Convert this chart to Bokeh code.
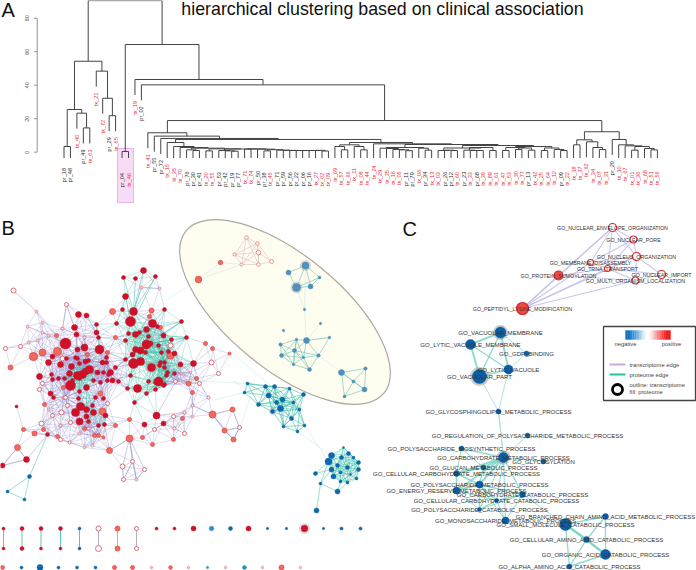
from math import hypot, radians
from bokeh.plotting import figure
from bokeh.models import Range1d
from bokeh.core.properties import value
from bokeh.embed import file_html
from bokeh.resources import INLINE

TITLE = "hierarchical clustering based on clinical association"
PANELS = [("A", 1, 9), ("B", 1, 227), ("C", 402, 228)]
AXIS_TICKS = [0, 20, 40, 60, 80]

# ---- dendrogram (merge heights, leaves as labels) ----
LEFT = (54.3, (25.5, (3.4, 'pr_18', 'pr_48'), (23.3, 'tx_40', (14.5, 'pr_49', 'tx_63'))),
        (48.4, 'tx_21', (32.2, 'tx_72', (21.8, 'pr_29', 'tx_65'))))
Q = (2.0, (0.8, 'tx_20', 'tx_55'),
     (1.9, (1.0, 'pr_53', (0.8, 'pr_42', (0.6, 'pr_19', 'pr_77'))),
      (2.0, (1.9, 'tx_71', 'tx_74'),
       (1.8, 'pr_50', (1.5, (0.8, 'pr_38', 'tx_45'),
        (1.2, 'pr_71', (1.1, 'pr_59', (1.0, 'pr_56', (1.0, 'pr_22', (1.0, 'pr_06', (1.0, 'pr_16', (1.1, 'tx_27', (0.7, 'tx_02', 'tx_09'))))))))))))) 
N242 = (2.4, (1.4, 'pr_76', (1.0, 'pr_30', 'pr_41')), Q)
G1 = (5.8, 'tx_15', (3.4, 'tx_35', (2.8, 'tx_70', N242)))
N350 = (4.4, (3.4, 'tx_69', (1.4, 'tx_57', 'tx_66')), (3.4, 'tx_11', (1.4, 'tx_08', 'tx_44')))
N405 = (2.8, (2.4, 'tx_29', (2.2, 'tx_35', (1.6, 'tx_16', (1.4, 'tx_05', (0.9, 'pr_11', 'pr_79'))))),
        (2.4, 'tx_06', (1.2, 'pr_34', 'tx_13')))
B1 = (2.5, (1.0, 'tx_03', (1.2, 'pr_26', (1.0, 'pr_12', 'tx_60'))),
      (2.8, (1.2, 'pr_23', (1.0, 'tx_33', (1.0, 'pr_68', 'tx_39'))), (1.0, 'tx_89', 'tx_61')))
B2 = (3.4, (2.8, (1.0, 'tx_47', 'tx_53'), (2.5, (1.6, 'tx_30', 'tx_77'), (1.2, 'pr_13', 'tx_42'))),
      (2.5, (1.0, 'tx_25', 'tx_64'), (1.6, 'tx_12', (1.0, 'pr_09', 'tx_22'))))
N498 = (4.0, B1, B2)
G2 = (5.8, N350, (5.0, 'tx_24', (4.6, N405, N498)))
A_BRANCH = (11.6, 'tx_41', (9.6, 'pr_55', (8.2, 'pr_72', (7.6, G1, G2))))
B_BRANCH = (12.2, (7.4, (4.4, 'tx_18', 'tx_37'), (6.2, 'tx_62', (2.8, 'tx_34', (1.6, 'tx_07', 'tx_31')))),
            (7.6, 'pr_20', (4.4, 'tx_10', (3.8, 'tx_67', (3.4, (1.2, 'tx_01', 'tx_36'),
             (2.2, 'tx_68', (1.4, 'tx_51', 'tx_56')))))))
RIGHT = (64.3, (0.4, 'pr_04', 'tx_46'), (43.4, 'tx_19', (40.2, 'pr_02', (18.9, A_BRANCH, B_BRANCH))))
ROOT = (90.5, LEFT, RIGHT)

# ---- network B: node positions and radii ----
MAIN_RED = [(143,270,3),(123,277,2),(135,278,2),(155,276,2),(125,296,3),(133,311,4),(122,309,2),(164,309,2),
 (130,321,5),(116,323,2),(181,321,2),(152,323,4),(146,329,3),(157,326,2),(186,337,2),(171,339,2),(163,335,2.5),
 (128,333,2),(135,334,3),(139,332,2),(148,336,2),(125,340,2),(146,344,4.5),(158,345,2),(150,343,2.5),(135,349,3),
 (140,350,3.5),(132,354,2.5),(145,352,2),(161,352,2),(174,353,2.5),(168,351,2),(133,363,5),(140,361,4),(151,367,4),
 (160,362,2),(164,362,2),(159,365,2),(164,367,2),(180,364,2.5),(193,363,3),(174,373,2),(158,381,4.5),(148,381,2),
 (155,382,2),(167,372,2),(166,375,2),(163,385,2),(164,384,2),(137,388,4),(127,388,2),(146,393,2),(155,389,2),
 (118,381,2),(112,380,2.5),(107,380,2),(100,382,2),(130,375,2),(102,362,2.5),(99,349,4.5),(115,367,2),(110,372,3),
 (103,372,2),(97,372,2.5),(89,369,4),(85,371,3.5),(82,374,4),(77,375,4),(69,373,3),(71,366,3),(77,358,2),(84,347,3.5),
 (85,361,2.5),(88,360,2),(79,363,2),(66,358,2),(60,364,3),(48,362,3),(52,356,2.5),(65,343,5.5),(39,376,3),(51,374,2),
 (52,379,2),(58,378,2),(64,378,2),(72,380,2),(70,385,5),(79,378,2),(86,387,3),(79,391,2),(93,380,2),(50,393,2.5),
 (53,397,2),(78,314,3),(86,315,2.5),(74,327,3),(76,334,2.5),(96,324,2),(96,332,2.5),(98,337,2),(77,349,2.5),(75,357,2),
 (106,357,2),(125,359,2),(106,362,2),(108,374,2),(95,397,2),(103,398,2),(16,406,1.5),(79,421,3.5),(75,412,4),(80,406,4),
 (86,409,3),(93,412,3),(105,415,2.5),(88,421,2),(98,425,2),(104,424,2),(134,402,2),(156,415,3.5),(144,424,2.5),
 (163,423,2.5),(47,434,2),(26,459,3),(2,465,2.5),(86,416,2.5),(92,405,2),(78,398,2)]
MAIN_OPEN = [(170,345,2.5),(211,362,2.5),(218,373,2),(199,383,2),(208,397,1.5),(175,381,2),(39,389,2),(42,383,2),(64,397,2),
 (13,290,2.5),(66,304,2),(62,328,1.5),(20,346,2),(5,348,2),(62,358,2.5),(84,337,1.5),(61,412,2.5),(41,423,2.5),(60,439,2),
 (52,415,2),(69,442,1.5),(70,422,2),(60,425,1.5),(107,403,2),(154,429,2),(184,433,2),(174,428,1.5),(173,416,2),(184,412,1.5),
 (192,405,1.5),(239,427,2),(132,461,2),(122,466,2.5),(144,469,2),(123,479,2),(67,405,2),(65,397,2),(88,428,1.5)]
MAIN_SALMON = [(112,311,3),(151,310,2.5),(149,316,2),(160,327,2),(115,337,2),(107,352,2),(87,354,2),(170,355,3.5),
 (205,343,2),(212,348,2),(229,353,1.5),(196,378,2),(188,383,2.5),(192,392,2),(57,351,4),(42,352,3.5),(33,356,4),(10,367,2.5),
 (100,393,2.5),(63,387,2),(56,335,2),(44,404,2),(23,429,2),(34,433,2.5),(43,429,2),(57,436,2),(102,411,3.5),(115,425,2),
 (94,435,2),(98,435,2),(103,437,1.5),(84,428,2),(129,419,2),(142,437,2),(152,444,2),(173,439,2),(182,418,2),(212,414,3.5),
 (232,409,2.5),(224,430,2.5),(233,439,2.5),(129,438,3.5),(109,450,3),(17,447,3)]
MAIN_PINK = [(141,287,1.5),(159,288,1.5),(36,311,1.5),(42,322,1.5),(27,326,1.5),(42,332,1.5),(48,335,1.5),(37,340,1.5),(28,342,1.5),
 (79,433,1.5),(84,447,1.5),(92,445,1.5),(48,409,1.5),(192,416,1.5),(136,479,1.5),(181,373,1.2),(190,372,1.2),(180,380,1.2)]
BLUE_UPPER = [(247,383,1.5),(244,392,1.5),(265,386,2),(274,386,2),(289,388,1.5),(303,394,2),(268,395,2.5),(282,399,2.5),(276,402,2),
 (258,404,2),(293,402,1.5),(280,408,3),(299,409,1.5),(272,411,2),(291,418,2),(304,425,1.5),(283,426,1.5),(297,431,1.5)]
BLUE_BALL = [(331,455,3),(328,461,3.5),(343,447,1),(348,453,2),(353,457,1.5),(358,462,2),(358,469,2),(356,478,1.5),(347,482,1.5),
 (340,481,1.5),(333,476,2.5),(331,469,2.5),(341,457,2),(337,465,2),(347,467,2),(340,472,1.5),(350,474,1)]
BLUE_BALL_TAIL = [(315,473,2),(320,483,1.5),(337,491,2.5),(316,510,2.5)]
BLUE_TRIANGLE = [(29,476,2),(7,491,1.5),(24,499,1.5)]
ELLIPSE_OPEN = [(246,237,1.8),(257,243,1.8),(258,252,2.3),(234,254,1.6),(241,264,1.5),(258,264,1.8),(271,261,2)]
ELLIPSE_SALMON = [(220,262,2.2),(198,279,3.3)]
MUTED_A = [(305,265,3.5),(288,272,2.5),(319,277,1.5),(296,287,4),(310,286,2.5)]
MUTED_B = [(304,309,1.2),(320,323,1.2),(283,330,1.2),(306,340,3),(329,337,1.3),(296,339,1.3),(280,344,1.7),(294,350,2),
 (281,355,2),(303,357,1.3),(318,355,1.8),(293,364,1.3),(309,369,2)]
MUTED_C = [(341,372,3),(365,368,1.7),(353,381,1.6),(364,389,2.5),(344,396,1.5)]
HALOS_B = [(305,265,5.5),(296,287,6),(272,411,3.5),(304,528,5.5),(151,367,6),(33,356,5)]
FAINT_LINKS = [(198,279,165,300),(198,279,220,262),(198,279,241,264),(220,262,241,264),(304,309,305,265),(304,309,296,287),(304,309,306,340),
 (318,355,341,372),(304,425,328,461),(297,431,331,455),(300,410,304,425),(232,353,300,410),(190,380,247,383),(212,400,244,392),
 (233,380,260,398),(240,427,250,395),(320,323,306,340),(329,337,306,340),(320,483,316,510)]
PURPLE_LINKS = [(129,438,132,461),(129,438,122,466),(129,438,144,469),(132,461,123,479),(144,469,136,479),(122,466,123,479),(132,461,136,479),
 (129,438,136,479),(109,450,129,438),(104,424,109,450),(13,290,36,311),(36,311,56,335),(66,304,74,327),(66,304,62,328),(159,288,141,287),
 (17,447,26,459),(17,447,2,465),(2,465,26,459),(26,459,47,434),(212,414,192,405),(212,414,224,430),(212,414,232,409),(232,409,239,427),
 (224,430,239,427),(224,430,233,439),(212,414,233,439),(239,427,233,439),(156,415,175,381),(184,412,156,415)]
TEAL_LINKS = [(143,270,133,311),(123,277,133,311),(135,278,133,311),(155,276,133,311),(141,287,133,311),(155,276,138,310),(125,296,130,321),
 (133,311,130,321),(181,321,146,344),(186,337,146,344),(186,337,163,335),(171,339,150,343),(181,321,160,335),(29,476,7,491),(7,491,24,499),
 (29,476,24,499),(47,434,29,476),(315,473,328,461),(320,483,331,469),(320,483,337,491),(337,491,340,481),(315,473,331,469),(320,483,328,461),
 (320,483,316,510),(337,491,347,482)]

# ---- isolated nodes and pairs at the foot of B ----
PAIR_COLS = [3, 21.5, 40.5, 60, 79, 98, 117, 136]
PAIR_KIND = ["r", "r", "r", "r", "b", "o", "s", "o"]
PAIR_R_TOP = [1.5, 2, 2, 2, 1.5, 2.5, 2.5, 2]
PAIR_R_BOT = [1.5, 2, 1.5, 1.5, 1.5, 3, 2.5, 2]
ROW1_X = [156, 174, 193, 211, 230, 248, 267, 286, 304, 323, 341, 360]
ROW1_K = ["r", "r", "r", "l", "b", "r", "b", "b", "r", "b", "b", "b"]
ROW1_R = [1.5, 1.5, 2.5, 2.3, 2, 2.5, 1.2, 1.2, 3.3, 1.2, 1.6, 1.6]
ROW3_X = [2, 21, 39.5, 58, 76.5, 95, 114, 132, 151, 170, 188, 207, 225, 244, 262, 281, 300]
ROW3_K = ["s", "b", "b", "b", "b", "b", "s", "s", "p", "s", "p", "m", "p", "l", "p", "s", "p"]
ROW3_R = [2, 1.5, 3, 1.5, 1.5, 1.5, 2, 2, 1.2, 1.8, 1.2, 1.2, 1.2, 2, 1.2, 2.5, 1.2]

# ---- network C ----
C_TOP = [("GO_NUCLEAR_ENVELOPE_ORGANIZATION",612,227,4),("GO_NUCLEAR_PORE",633,239,3.5),("GO_NUCLEUS_ORGANIZATION",636,256,4),
 ("GO_MEMBRANE_DISASSEMBLY",590,262,3),("GO_TRNA_TRANSPORT",607,268,3),("GO_NUCLEAR_IMPORT",661,274,4),
 ("GO_MULTI_ORGANISM_LOCALIZATION",635,280,3.5)]
C_TOP_FILLED = [("GO_PROTEIN_SUMOYLATION",558,275,4.5),("GO_PEPTIDYL_LYSINE_MODIFICATION",522,308,6)]
C_VACUOLE = [("GO_VACUOLAR_MEMBRANE",500,332,5.5),("GO_LYTIC_VACUOLE_MEMBRANE",470,344,5),("GO_GDP_BINDING",526,353,2.5),
 ("GO_LYTIC_VACUOLE",508,369,4.5),("GO_VACUOLAR_PART",479,376,7)]
C_LOWER = [("GO_GLYCOSPHINGOLIPID_METABOLIC_PROCESS",498,411,2.5),("GO_REGULATION_OF_POLYSACCHARIDE_METABOLIC_PROCESS",527,435,2.5),
 ("GO_POLYSACCHARIDE_BIOSYNTHETIC_PROCESS",461,448,2.5),("GO_CARBOHYDRATE_METABOLIC_PROCESS",503,457,5),
 ("GO_GLYCOSYLATION",543,461,2.5),("GO_GLUCAN_METABOLIC_PROCESS",483,467,2.5),("GO_CELLULAR_CARBOHYDRATE_METABOLIC_PROCESS",456,473,3),
 ("GO_POLYSACCHARIDE_METABOLIC_PROCESS",479,484,3.5),("GO_ENERGY_RESERVE_METABOLIC_PROCESS",456,490,3.5),
 ("GO_CARBOHYDRATE_CATABOLIC_PROCESS",522,494,3),("GO_CELLULAR_CARBOHYDRATE_CATABOLIC_PROCESS",496,500,2),
 ("GO_POLYSACCHARIDE_CATABOLIC_PROCESS",479,509,2),("GO_MONOSACCHARIDE_METABOLIC_PROCESS",505,520,3.5),
 ("GO_BRANCHED_CHAIN_AMINO_ACID_METABOLIC_PROCESS",605,516,3),("GO_SMALL_MOLECULE_CATABOLIC_PROCESS",565,524,6),
 ("GO_CELLULAR_AMINO_ACID_CATABOLIC_PROCESS",586,539,3),("GO_ORGANIC_ACID_CATABOLIC_PROCESS",605,554,5),
 ("GO_ALPHA_AMINO_ACID_CATABOLIC_PROCESS",569,566,2.5)]
C_HALOS = [(500,332,7.5),(479,376,9.5),(503,457,7)]
C_PURPLE_EDGES = [(7,0,1.0),(8,7,2.2),(8,3,1.3),(8,4,1.3),(8,0,1.0),(8,6,1.3),(8,2,0.8),(0,1,1),(0,2,1),(0,4,1),(0,3,1),(1,2,1),(1,4,1),(2,4,1),
 (2,6,1),(4,6,1.3),(5,6,1),(4,5,1),(5,2,.7),(3,2,1),(3,4,1),(7,4,1),(7,6,1),(1,3,.7)]
C_VAC_EDGES = [(0,1,2),(0,4,1.3),(0,3,2),(1,4,2),(1,3,1.3),(4,3,1.3),(0,2,.7),(2,3,.7)]
C_LOWER_EDGES = [(0,3,.8),(1,3,.8),(2,3,1.6),(3,4,.8),(3,5,2),(3,6,2),(3,7,2),(3,8,1.6),(3,9,1.3),(3,10,1),(3,11,1),(3,12,1),
 (2,5,1),(2,6,1),(5,6,1.3),(5,7,1.3),(6,7,1.6),(6,8,1.6),(7,8,2),(7,9,1.3),(7,10,1.3),(7,11,1.6),(8,10,1),(8,11,1),(9,10,1.3),(9,11,1),(10,11,1.3),
 (10,12,1),(7,12,1),(9,12,1),(9,14,.8),(13,14,1.3),(14,15,2.2),(14,16,1.6),(15,16,2.2),(13,15,1.3),(13,16,1.3),(15,17,1.3),(16,17,1.6),(14,17,1.3)]

# ---- legend ----
LEGEND_TEXT = [("negative",625,343,"center"),("positive",671,343,"center"),("transcriptome edge",629,364,"left"),
 ("proteome edge",629,374,"left"),("outline: transcriptome",629,384,"left"),("fill: proteome",629,391,"left")]
LEGEND_BOX = (603, 695, 326, 400)
LEGEND_BAR = (625, 670, 330, 339)
BAR_COLORS = ["#0a6fc0","#1177c4","#2a86cb","#4496d2","#619fd8","#81b6e1","#a3cbea","#c6dff2","#e6f1f9","#ffffff","#ffffff","#fde6e6","#fcc8c8","#fba8a8","#f98888","#f86868","#f64c4c","#f53434","#f31e1e","#f10f0f"]

FONT = "Liberation Sans"
TEAL = "#35bba3"
PURPLE = "#8d86c8"
STYLE = {"r": ("#cc1128", "#cc1128", 0.5), "o": ("#ffffff", "#e26c74", 1.0), "s": ("#f26a5c", "#e24a48", 0.8),
         "p": ("#f3c9c9", "#d78c98", 0.7), "b": ("#0e68ad", "#0e68ad", 0.5), "m": ("#4f90bd", "#4f90bd", 0.5),
         "l": ("#2a8fc8", "#2a8fc8", 0.5), "q": ("#fffdf0", "#ec8a88", 0.9), "v": ("#0a5ea8", "#0a5ea8", 0.5),
         "c": ("#ffffff", "#d8252e", 1.2), "f": ("#ee4a44", "#d8252e", 1.2)}

p = figure(width=696, height=570, x_range=Range1d(0, 696), y_range=Range1d(570, 0), toolbar_location=None,
           output_backend="svg", min_border=0, outline_line_color=None, background_fill_color="white")
p.axis.visible = False
p.grid.visible = False


def seg(pts, color, alpha=1.0, width=1.0):
    if pts:
        p.segment([a[0] for a in pts], [a[1] for a in pts], [a[2] for a in pts], [a[3] for a in pts],
                  line_color=color, line_alpha=alpha, line_width=width)


def dots(nodes, kind):
    if nodes:
        f, l, w = STYLE[kind]
        p.scatter([n[0] for n in nodes], [n[1] for n in nodes], size=[2 * n[2] for n in nodes],
                  marker="circle", fill_color=f, line_color=l, line_width=w)


def texts(xs, ys, labels, size, color="#333333", align="center", baseline="middle", angle=0.0):
    p.text(xs, ys, text=labels, text_font=value(FONT), text_font_size=f"{size}px", text_color=color,
           text_align=align, text_baseline=baseline, angle=angle)


def near(nodes, limit):
    out = []
    for i, a in enumerate(nodes):
        for b in nodes[i + 1:]:
            if hypot(a[0] - b[0], a[1] - b[1]) < limit:
                out.append((a[0], a[1], b[0], b[1]))
    return out


# ---- A: dendrogram ----
X0, DX, Y0, YS = 63.5, 6.45, 151.7, 1.675
hy = lambda h: Y0 - YS * h
leaves, den, tips = [], [], []


def walk(n):
    if isinstance(n, str):
        leaves.append(n)
        return X0 + DX * (len(leaves) - 1), None
    h, a, b = n
    xa, ya = walk(a)
    xb, yb = walk(b)
    y = hy(h)
    den.append((xa, y, xb, y))
    for cx, cy, name in ((xa, ya, a), (xb, yb, b)):
        if cy is None:
            end = min(y + 15.5, 157.5)
            den.append((cx, y, cx, end))
            tips.append((name, cx, y + 21.5))
        else:
            den.append((cx, y, cx, cy))
    return (xa + xb) / 2, y


walk(ROOT)
p.quad(left=[117], right=[133], top=[148], bottom=[202], fill_color="#f8dcf6", line_color="#e9b4e9", line_width=1)
seg(den, "#444444", 1, 1.0)
seg([(36.7, hy(AXIS_TICKS[0]), 36.7, hy(AXIS_TICKS[-1]))] + [(33.5, hy(t), 36.7, hy(t)) for t in AXIS_TICKS], "#777777", 1, 0.8)
texts([26] * len(AXIS_TICKS), [hy(t) for t in AXIS_TICKS], [str(t) for t in AXIS_TICKS], 5.5, "#555555", angle=radians(90))
for pre, col in (("tx", "#e8303a"), ("pr", "#2c2c2c")):
    sel = [t for t in tips if t[0].startswith(pre)]
    texts([t[1] for t in sel], [t[2] for t in sel], [t[0] for t in sel], 5.6, col, align="right", angle=radians(90))
texts([382], [8], [TITLE], 17.8, "#111111")
for name, x, y in PANELS:
    texts([x], [y], [name], 20, "#111111", align="left")

# ---- B ----
p.ellipse([284.5], [311.5], width=256, height=114, angle=radians(-39.35), fill_color="#fffdf0", line_color="#aaa8a0", line_width=1.2)
main = MAIN_RED + MAIN_OPEN + MAIN_SALMON + MAIN_PINK
red_set = set(id(n) for n in MAIN_RED)


def teal_zone(n):
    return n[0] >= 120 or (n[1] < 350 and n[0] > 85) or (60 < n[0] < 100 and 362 < n[1] < 395) or (85 < n[0] < 110 and 400 < n[1] < 425)


teal_e, purple_e = [], []
for i, a in enumerate(main):
    for b in main[i + 1:]:
        d = hypot(a[0] - b[0], a[1] - b[1])
        both = id(a) in red_set and id(b) in red_set
        if both and d < 30 and teal_zone(a) and teal_zone(b):
            teal_e.append((a[0], a[1], b[0], b[1]))
        elif d < 26:
            purple_e.append((a[0], a[1], b[0], b[1]))
seg(purple_e, PURPLE, 0.42, 0.7)
seg(teal_e, TEAL, 0.42, 0.7)
seg(PURPLE_LINKS, PURPLE, 0.55, 0.8)
seg(TEAL_LINKS, TEAL, 0.6, 0.8)
seg(FAINT_LINKS, "#b8e2da", 0.6, 0.7)
seg(near(BLUE_UPPER, 28), TEAL, 0.7, 0.8)
seg(near(BLUE_BALL, 22), TEAL, 0.7, 0.6)
seg(near(ELLIPSE_OPEN, 30), "#d8bcc4", 0.8, 0.7)
seg(near(MUTED_A, 26), "#6cc6b0", 0.8, 0.8)
seg(near(MUTED_B[3:], 26), "#6cc6b0", 0.8, 0.8)
seg(near(MUTED_C, 30), "#6cc6b0", 0.8, 0.8)

pairs_t = [(x, 528, x, 548) for x, k in zip(PAIR_COLS, PAIR_KIND) if k in "rb"]
pairs_p = [(x, 528, x, 548) for x, k in zip(PAIR_COLS, PAIR_KIND) if k not in "rb"]
seg(pairs_t, TEAL, 0.8, 1.0)
seg(pairs_p, "#a9a3cf", 0.9, 1.0)

for x, y, r in HALOS_B:
    p.scatter([x], [y], size=[2 * r], marker="circle", fill_color="#999999", fill_alpha=0.35, line_color=None)
dots(MAIN_PINK, "p")
dots(MAIN_OPEN, "o")
dots(MAIN_SALMON, "s")
dots(MAIN_RED, "r")
dots(BLUE_UPPER + BLUE_BALL + BLUE_BALL_TAIL + BLUE_TRIANGLE, "b")
dots(ELLIPSE_OPEN, "q")
dots(ELLIPSE_SALMON, "s")
dots(MUTED_A + MUTED_B + MUTED_C, "m")
for col, k, r1, r2 in zip(PAIR_COLS, PAIR_KIND, PAIR_R_TOP, PAIR_R_BOT):
    dots([(col, 528, r1), (col, 548, r2)], k)
for x, k, r in zip(ROW1_X, ROW1_K, ROW1_R):
    dots([(x, 528, r)], k)
for x, k, r in zip(ROW3_X, ROW3_K, ROW3_R):
    dots([(x, 567, r)], k)

# ---- C ----
top = C_TOP + C_TOP_FILLED
seg([(top[a][1], top[a][2], top[b][1], top[b][2]) for a, b, w in C_PURPLE_EDGES], "#c3c1e8", 0.9, 1.1)
for nodes, edges in ((C_VACUOLE, C_VAC_EDGES), (C_LOWER, C_LOWER_EDGES)):
    for a, b, w in edges:
        seg([(nodes[a][1], nodes[a][2], nodes[b][1], nodes[b][2])], "#74d3c0", 0.8, w)
seg([(479, 376, 498, 411), (508, 369, 498, 411)], "#a8e2d6", 0.9, 1)
seg([(498, 411, 503, 457)], "#a8e2d6", 0.9, 1)
for x, y, r in C_HALOS:
    p.scatter([x], [y], size=[2 * r], marker="circle", fill_color="#999999", fill_alpha=0.5, line_color=None)
dots([n[1:] for n in C_TOP], "c")
dots([n[1:] for n in C_TOP_FILLED], "f")
dots([n[1:] for n in C_VACUOLE], "v")
dots([n[1:] for n in C_LOWER], "v")
for nodes, size in ((top, 5.3), (C_VACUOLE, 6.1), (C_LOWER, 6.0)):
    texts([n[1] for n in nodes], [n[2] for n in nodes], [n[0] for n in nodes], size)

# ---- legend ----
l, r, t, b = LEGEND_BOX
p.quad(left=[l], right=[r], top=[t], bottom=[b], fill_color="white", line_color="#444444", line_width=1.3)
bl, br, bt, bb = LEGEND_BAR
step = (br - bl) / len(BAR_COLORS)
p.quad(left=[bl + i * step for i in range(len(BAR_COLORS))], right=[bl + (i + 1) * step for i in range(len(BAR_COLORS))],
       top=bt, bottom=bb, fill_color=BAR_COLORS, line_color=BAR_COLORS, line_width=0.3)
seg([(609, 364, 625, 364)], "#c9a9d9", 1, 2)
seg([(609, 374, 625, 374)], "#22c2a4", 1, 2)
p.scatter([617], [389], size=[10], marker="circle", fill_color="white", line_color="black", line_width=2.8)
for txt, x, y, al in LEGEND_TEXT:
    texts([x], [y], [txt], 5.8, "#444444", align=al)

open("out.html", "w").write(file_html(p, INLINE))
